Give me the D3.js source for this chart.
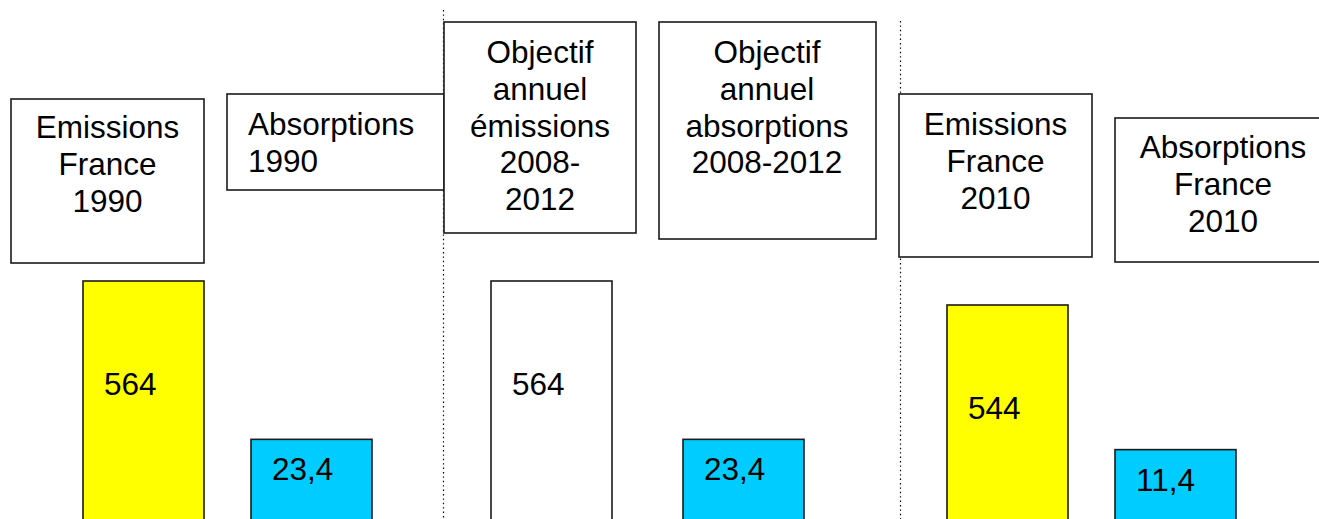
<!DOCTYPE html>
<html>
<head>
<meta charset="utf-8">
<script src="https://cdn.jsdelivr.net/npm/d3@7/dist/d3.min.js"></script>
<style>
  html, body { margin: 0; padding: 0; background: #ffffff; }
  svg { display: block; }
  text { font-family: "Liberation Sans", Arial, Helvetica, sans-serif; fill: #000; }
</style>
</head>
<body>
<svg id="chart" width="1319" height="519"></svg>
<script>
// Greenhouse-gas balance for France (Mt CO2 eq.)
const categories = ["em1990", "abs1990", "emObj", "absObj", "em2010", "abs2010"];
const kinds      = ["emission", "absorption", "emission", "absorption", "emission", "absorption"];
const values     = [564, 23.4, 564, 23.4, 544, 11.4];
const valueLabels = ["564", "23,4", "564", "23,4", "544", "11,4"];
const fills      = ["#ffff00", "#00ccff", "#ffffff", "#00ccff", "#ffff00", "#00ccff"];
const titles = [
  ["Emissions", "France", "1990"],
  ["Absorptions", "1990"],
  ["Objectif", "annuel", "émissions", "2008-", "2012"],
  ["Objectif", "annuel", "absorptions", "2008-2012"],
  ["Emissions", "France", "2010"],
  ["Absorptions", "France", "2010"]
];

const W = 1319, H = 519;
const svg = d3.select("#chart");

// Bar slots along the page
const x = d3.scaleOrdinal().domain(categories).range([83, 251, 491, 683, 947, 1115]);
const barW = 121;

// Two broken vertical scales: emissions and absorptions are drawn with their own magnitudes
const yEm  = d3.scaleLinear().domain([0, 600]).range([957.8, 237.8]);
const yAbs = d3.scaleLinear().domain([0, 30]).range([459.4, 433.7]);
const yOf = i => (kinds[i] === "emission" ? yEm : yAbs)(values[i]);

// Title boxes
const boxes = [
  { x: 11,   y: 99,  w: 193, h: 164, tx: 107.5, anchor: "middle", base: 138 },
  { x: 227,  y: 94,  w: 217, h: 96,  tx: 248,   anchor: "start",  base: 135 },
  { x: 444,  y: 22,  w: 192, h: 211, tx: 540,   anchor: "middle", base: 63 },
  { x: 659,  y: 22,  w: 217, h: 217, tx: 767,   anchor: "middle", base: 63 },
  { x: 899,  y: 94,  w: 193, h: 163, tx: 995.5, anchor: "middle", base: 135 },
  { x: 1115, y: 118, w: 216, h: 144, tx: 1223,  anchor: "middle", base: 158 }
];
const lineH = 36.8;
const fontSize = 31.5;

// Dotted separators between periods
svg.selectAll("line.sep")
  .data([{ x: 443.5, y0: 10 }, { x: 900.5, y0: 21 }])
  .join("line")
  .attr("class", "sep")
  .attr("x1", d => d.x).attr("x2", d => d.x)
  .attr("y1", d => d.y0).attr("y2", H)
  .attr("stroke", "#000")
  .attr("stroke-width", 1.2)
  .attr("stroke-dasharray", "1.4,3");

const boxG = svg.selectAll("g.box").data(boxes).join("g").attr("class", "box");
boxG.append("rect")
  .attr("x", d => d.x).attr("y", d => d.y)
  .attr("width", d => d.w).attr("height", d => d.h)
  .attr("fill", "#fff")
  .attr("stroke", "#1a1a1a")
  .attr("stroke-width", 1.6);
boxG.each(function (d, i) {
  const g = d3.select(this);
  titles[i].forEach((line, k) => {
    g.append("text")
      .attr("x", d.tx)
      .attr("y", d.base + k * lineH)
      .attr("text-anchor", d.anchor)
      .attr("font-size", fontSize)
      .text(line);
  });
});

// Bars (they run past the bottom edge of the page)
svg.selectAll("rect.bar")
  .data(categories)
  .join("rect")
  .attr("class", "bar")
  .attr("x", d => x(d))
  .attr("y", (d, i) => yOf(i))
  .attr("width", barW)
  .attr("height", (d, i) => H + 4 - yOf(i))
  .attr("fill", (d, i) => fills[i])
  .attr("stroke", "#1a1a1a")
  .attr("stroke-width", 1.6);

// Value labels inside the bars
svg.selectAll("text.val")
  .data(categories)
  .join("text")
  .attr("class", "val")
  .attr("x", d => x(d) + 21)
  .attr("y", (d, i) => yOf(i) + (kinds[i] === "emission" ? 114 : 41))
  .attr("font-size", fontSize)
  .text((d, i) => valueLabels[i]);
</script>
</body>
</html>
